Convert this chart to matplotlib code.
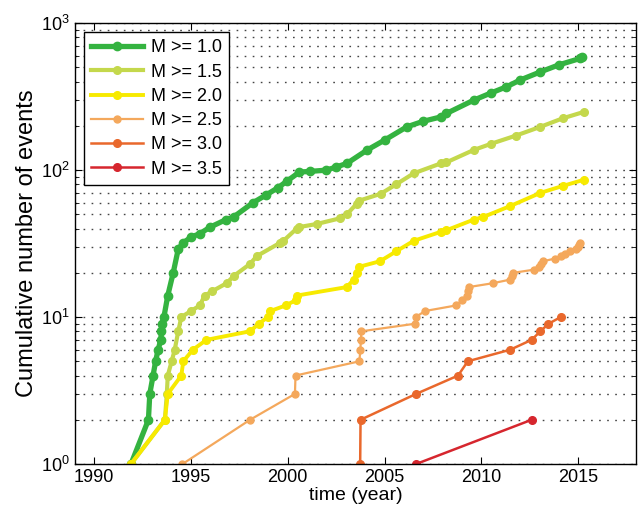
import numpy as np
import matplotlib
matplotlib.use("Agg")
import matplotlib.pyplot as plt
from matplotlib.ticker import LogLocator, NullFormatter

plt.rcParams['font.family'] = ['Liberation Sans', 'DejaVu Sans']
plt.rcParams['mathtext.fontset'] = 'custom'
plt.rcParams['mathtext.rm'] = 'Liberation Sans'

# cumulative counts (time in years, count)
t_m10 = [1991.9, 1992.8, 1992.87, 1993.04, 1993.17, 1993.3, 1993.44, 1993.47, 1993.5, 1993.6,
         1993.8, 1994.08, 1994.34, 1994.6, 1995.0, 1995.46, 1996.0, 1996.8, 1997.2, 1998.2,
         1998.9, 1999.5, 1999.95, 2000.6, 2001.15, 2002.0, 2002.5, 2003.05, 2004.1, 2005.0,
         2006.15, 2007.0, 2007.9, 2008.2, 2009.6, 2010.5, 2011.3, 2012.0, 2013.05, 2014.0,
         2015.1, 2015.2]
n_m10 = [1, 2, 3, 4, 5, 6, 7, 8, 9, 10,
         14, 20, 29, 32, 35, 37, 41, 46, 48, 60,
         68, 76, 84, 97, 98, 100, 105, 111, 137, 160,
         197, 215, 230, 243, 299, 335, 369, 410, 466, 520,
         575, 590]

t_m15 = [1991.9, 1993.65, 1993.75, 1993.8, 1994.0, 1994.16, 1994.34, 1994.5, 1995.0, 1995.46,
         1995.7, 1996.1, 1996.84, 1997.2, 1998.05, 1998.4, 1999.6, 1999.77, 2000.46, 2000.6,
         2001.5, 2002.7, 2003.05, 2003.56, 2003.7, 2004.8, 2005.6, 2006.5, 2007.9, 2008.2,
         2009.6, 2010.5, 2011.8, 2013.05, 2014.2, 2015.3]
n_m15 = [1, 2, 3, 4, 5, 6, 8, 10, 11, 12,
         14, 15, 17, 19, 23, 26, 32, 33, 40, 41,
         43, 47, 50, 59, 62, 69, 80, 95, 111, 113,
         137, 151, 172, 197, 225, 249]

t_m20 = [1991.9, 1993.65, 1993.8, 1994.5, 1994.6, 1995.1, 1995.8, 1998.05, 1998.5, 1998.97,
         1999.1, 1999.9, 2000.4, 2000.46, 2003.05, 2003.4, 2003.56, 2003.7, 2004.77, 2005.6,
         2006.5, 2007.9, 2008.2, 2009.6, 2010.1, 2011.5, 2013.05, 2014.2, 2015.3]
n_m20 = [1, 2, 3, 4, 5, 6, 7, 8, 9, 10,
         11, 12, 13, 14, 16, 18, 20, 22, 24, 28,
         33, 38, 39, 46, 48, 57, 70, 78, 86]

t_m25 = [1994.56, 1998.05, 2000.37, 2000.4, 2003.7, 2003.75, 2003.78, 2003.8, 2006.55, 2006.6,
         2007.1, 2008.7, 2009.0, 2009.25, 2009.3, 2009.35, 2010.6, 2011.5, 2011.6, 2011.65,
         2012.7, 2013.0, 2013.1, 2013.2, 2013.8, 2014.1, 2014.3, 2014.6, 2014.9, 2015.0,
         2015.05, 2015.1]
n_m25 = list(range(1, 33))

t_m30 = [2003.74, 2003.76, 2006.63, 2008.8, 2009.3, 2011.5, 2012.6, 2013.05, 2013.47, 2014.1]
n_m30 = list(range(1, 11))

t_m35 = [2006.63, 2012.6]
n_m35 = [1, 2]

labels = ['M >= 1.0', 'M >= 1.5', 'M >= 2.0', 'M >= 2.5', 'M >= 3.0', 'M >= 3.5']
colors = ['#34b340', '#c4d84c', '#f7ea00', '#f4a85c', '#e9682c', '#d6262e']

series = [(t_m10, n_m10), (t_m15, n_m15), (t_m20, n_m20),
          (t_m25, n_m25), (t_m30, n_m30), (t_m35, n_m35)]
widths = [3.8, 3.0, 2.8, 1.6, 1.8, 1.8]
msizes = [6, 5.5, 5.5, 5, 5.5, 5.5]

fig = plt.figure(figsize=(6.4, 5.15), dpi=100)
ax = fig.add_axes([0.117, 0.099, 0.877, 0.856])

for (t, n), lab, c, w, m in zip(series, labels, colors, widths, msizes):
    ax.plot(t, n, '-o', color=c, lw=w, ms=m, mec=c, mfc=c, label=lab)

ax.set_yscale('log')
ax.set_xlim(1989, 2018)
ax.set_ylim(1, 1000)
ax.set_xticks([1990, 1995, 2000, 2005, 2010, 2015])
ax.yaxis.set_minor_locator(LogLocator(base=10, subs=np.arange(2, 10)))
ax.yaxis.set_minor_formatter(NullFormatter())

ax.grid(True, which='both', axis='y', color='#444444', linestyle=(0, (1.2, 4.6)), lw=1.0)
ax.tick_params(which='both', direction='in', top=True, right=True, labelsize=13)
ax.tick_params(which='major', length=5)
ax.tick_params(which='minor', length=3)
for s in ax.spines.values():
    s.set_linewidth(1.0)

ax.set_xlabel('time (year)', fontsize=14, labelpad=1)
ax.set_ylabel('Cumulative number of events', fontsize=17, labelpad=2)

leg = ax.legend(loc='upper left', fontsize=13, fancybox=False, framealpha=1,
                edgecolor='black', handlelength=2.9, labelspacing=0.4,
                borderaxespad=0.5, handletextpad=0.4)
leg.get_frame().set_linewidth(1.0)

fig.savefig('out.png', dpi=100)
